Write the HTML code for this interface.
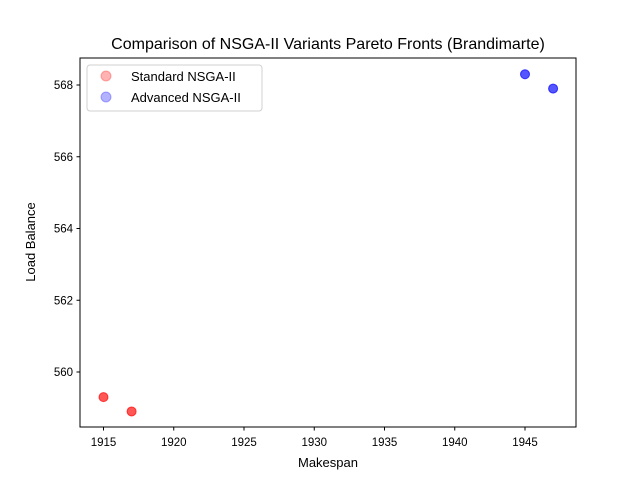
<!DOCTYPE html>
<html><head><meta charset="utf-8"><style>
body{margin:0;background:#fff;}
svg{display:block;font-family:"Liberation Sans","DejaVu Sans",sans-serif;}
</style></head><body>
<svg id="chart" width="640" height="480">
<rect width="640" height="480" fill="#fff"/>
<text x="328" y="49" text-anchor="middle" font-size="16">Comparison of NSGA-II Variants Pareto Fronts (Brandimarte)</text>
<g id="axes"></g>
<g id="marks"></g>
<rect x="80" y="58" width="496" height="369" fill="none" stroke="#000" stroke-width="1"/>
<text x="328" y="467" text-anchor="middle" font-size="13">Makespan</text>
<text transform="translate(35,242) rotate(-90)" text-anchor="middle" font-size="13">Load Balance</text>
<g>
<rect x="87" y="65" width="175" height="46" rx="3" fill="#fff" stroke="#ccc" opacity="0.9"/>
<circle cx="106" cy="76" r="5" fill="red" fill-opacity="0.3" stroke="red" stroke-opacity="0.3"/>
<text x="131" y="81" font-size="13">Standard NSGA-II</text>
<circle cx="106" cy="97" r="5" fill="blue" fill-opacity="0.3" stroke="blue" stroke-opacity="0.3"/>
<text x="131" y="102" font-size="13">Advanced NSGA-II</text>
</g>
</svg>
<script>
const xTicks=[1915,1920,1925,1930,1935,1940,1945];
const yTicks=[560,562,564,566,568];
const stdMakespan=[1915,1915,1915,1917,1917,1917];
const stdBalance=[559.3,559.3,559.3,558.9,558.9,558.9];
const advMakespan=[1945,1945,1945,1947,1947,1947];
const advBalance=[568.3,568.3,568.3,567.9,567.9,567.9];
const xs=v=>103.5+(v-1915)*(421.5/30);
const ys=v=>372-(v-560)*(287/8);
const NS='http://www.w3.org/2000/svg';
const axes=document.getElementById('axes');
const marks=document.getElementById('marks');
function mk(tag,attrs,parent){const e=document.createElementNS(NS,tag);for(const k in attrs)e.setAttribute(k,attrs[k]);parent.appendChild(e);return e;}
xTicks.forEach(t=>{
  const x=xs(t);
  const l=mk('line',{x1:x,x2:x,y1:427,y2:430.5,stroke:'#000'},axes);
  
  
  const tx=mk('text',{x:x,y:446,'text-anchor':'middle','font-size':'11.5'},axes);
  tx.textContent=t;
  
  
});
yTicks.forEach(t=>{
  const y=ys(t);
  const l=mk('line',{x1:76.5,x2:80,y1:y,y2:y,stroke:'#000'},axes);
  
  
  const tx=mk('text',{x:73,y:y+4,'text-anchor':'end','font-size':'11.5'},axes);
  tx.textContent=t;
  
  
});
function pts(mx,my,col,name){
  mx.forEach((v,i)=>{
    const c=mk('circle',{cx:xs(v),cy:ys(my[i]),r:4.5,fill:col,'fill-opacity':0.3,stroke:col,'stroke-opacity':0.3},marks);
    
    
  });
}
pts(stdMakespan,stdBalance,'red','standard-point');
pts(advMakespan,advBalance,'blue','advanced-point');
</script>
</body></html>
